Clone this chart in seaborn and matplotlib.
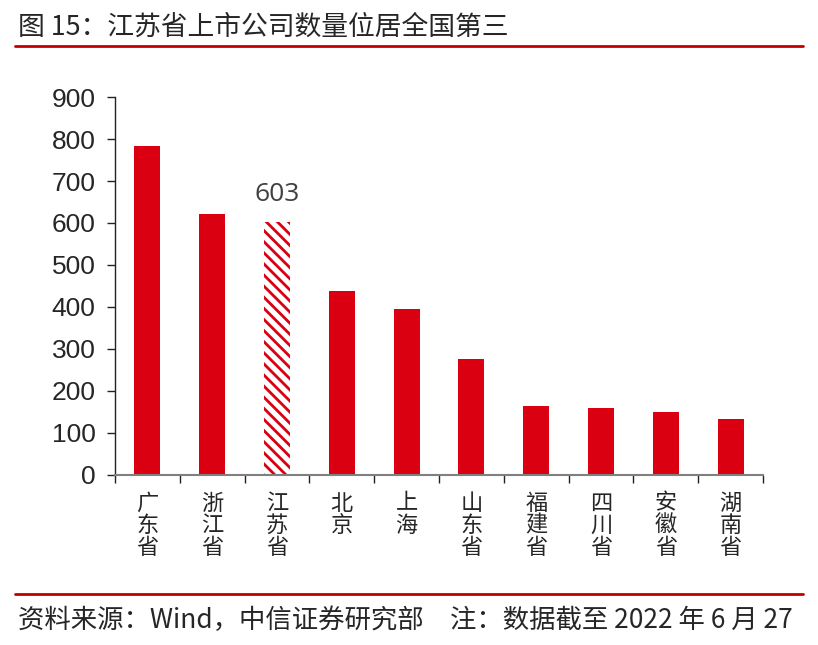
import matplotlib
matplotlib.use("Agg")
import matplotlib.pyplot as plt
import seaborn as sns
import pandas as pd
import numpy as np

provinces = ["广东省", "浙江省", "江苏省", "北京", "上海", "山东省", "福建省", "四川省", "安徽省", "湖南省"]
counts = [783, 621, 603, 438, 395, 276, 164, 160, 150, 134]
yticks = [0, 100, 200, 300, 400, 500, 600, 700, 800, 900]
title = "图 15：江苏省上市公司数量位居全国第三"
footer = "资料来源：Wind，中信证券研究部　注：数据截至 2022 年 6 月 27"

sns.set_theme(style="white")
plt.rcParams['font.family'] = ['Liberation Sans', 'Noto Sans CJK SC', 'DejaVu Sans']
plt.rcParams['hatch.color'] = '#DA0011'
plt.rcParams['hatch.linewidth'] = 2.0

red = '#DA0011'
df = pd.DataFrame({"prov": provinces, "n": counts})

fig = plt.figure(figsize=(8.18, 6.45), dpi=100)
ax = fig.add_axes([0.1406, 0.2636, 0.7922, 0.586])
sns.barplot(data=df, x="prov", y="n", color=red, saturation=1, width=0.4, ax=ax, order=provinces)
for i, p in enumerate(ax.patches):
    p.set_edgecolor('none')
    if provinces[i] == "江苏省":
        p.set_facecolor('white')
        p.set_hatch('\\\\\\')
        p.set_edgecolor(red)
        p.set_linewidth(0)
        ax.text(p.get_x() + p.get_width() / 2, counts[i] + 36, str(counts[i]),
                ha='center', va='bottom', fontsize=19, color='#404040', family=['Open Sans', 'DejaVu Sans'])

ax.set_xlim(-0.5, len(provinces) - 0.5)
ax.set_ylim(0, 900)
ax.set_yticks(yticks)
ax.set_yticklabels([str(v) for v in yticks], fontsize=19)
ax.set_xticks(range(len(provinces)))
ax.set_xticklabels(["\n".join(list(s)) for s in provinces], fontsize=16, fontweight='medium',
                   family=['Noto Sans CJK SC'], va='top', linespacing=0.95)
ax.set_xticks(np.arange(-0.5, len(provinces) + 0.5, 1), minor=True)
ax.tick_params(axis='x', which='major', length=0, pad=12)
ax.tick_params(axis='x', which='minor', length=6, width=1, color='#222222', direction='out', bottom=True)
ax.tick_params(axis='y', length=6, width=1, color='#222222', direction='out', left=True, pad=8)
ax.set_xlabel("")
ax.set_ylabel("")
for s in ['top', 'right']:
    ax.spines[s].set_visible(False)
ax.spines['left'].set_color('#222222')
ax.spines['bottom'].set_color('#808080')
ax.spines['left'].set_linewidth(1)
ax.spines['bottom'].set_linewidth(1.5)

fig.text(0.022, 0.957, title, fontsize=19.3, fontweight='medium', ha='left', va='center',
         family=['Noto Sans CJK SC', 'DejaVu Sans'])
fig.add_artist(plt.Line2D([0.018, 0.982], [0.928, 0.928], color='#C00000', linewidth=2))
fig.add_artist(plt.Line2D([0.018, 0.982], [0.079, 0.079], color='#C00000', linewidth=2))
fig.text(0.022, 0.038, footer, fontsize=19, fontweight='medium', ha='left', va='center',
         family=['Noto Sans CJK SC', 'DejaVu Sans'])

fig.savefig("out.png", dpi=100)
